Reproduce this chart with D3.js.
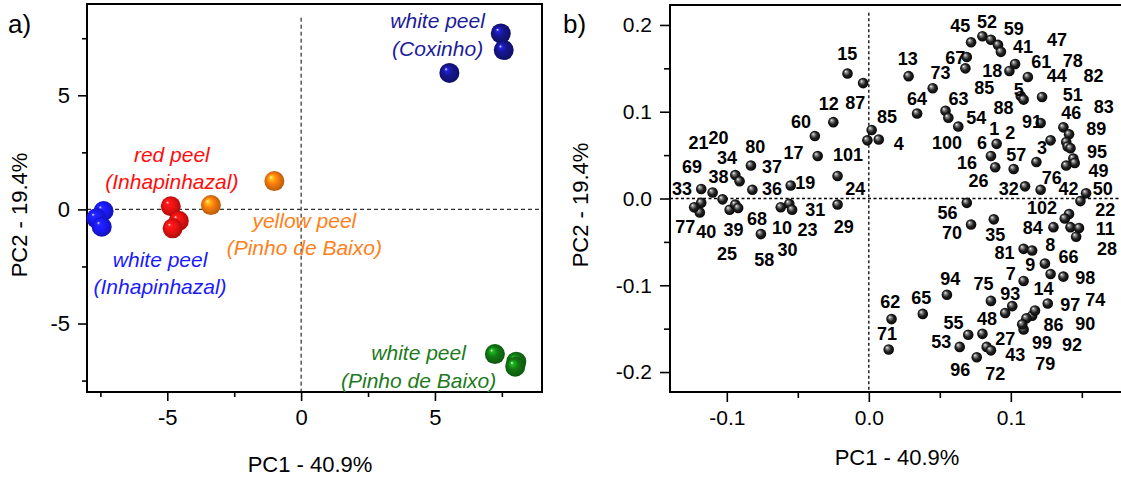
<!DOCTYPE html>
<html><head><meta charset="utf-8">
<script src="https://cdn.jsdelivr.net/npm/d3@7"></script>
<style>
body{margin:0;background:#fff}
svg{display:block}
text{font-family:"Liberation Sans",Arial,sans-serif}
</style>
</head><body>
<svg id="c" width="1121" height="481"></svg>
<script>
// ---------- Panel a) : PCA scores ----------
const scoreGroup = ["coxinho","coxinho","coxinho",
  "inhaWhite","inhaWhite","inhaWhite",
  "inhaRed","inhaRed","inhaRed",
  "pinhoYellow","pinhoYellow",
  "pinhoWhite","pinhoWhite","pinhoWhite"];
const scorePC1 = [7.46, 7.57, 5.54, -7.38, -7.65, -7.45, -4.87, -4.57, -4.80, -3.37, -1.00, 7.24, 8.04, 8.00];
const scorePC2 = [7.71, 6.98, 5.98, -0.07, -0.39, -0.76, 0.14, -0.50, -0.83, 0.19, 1.24, -6.34, -6.67, -6.89];

const groupKeys  = ["coxinho","inhaRed","pinhoYellow","inhaWhite","pinhoWhite"];
const groupLine1 = ["white peel","red peel","yellow peel","white peel","white peel"];
const groupLine2 = ["(Coxinho)","(Inhapinhazal)","(Pinho de Baixo)","(Inhapinhazal)","(Pinho de Baixo)"];
const groupLabelPC1 = [5.10, -4.83, 0.12, -5.27, 4.39];
const groupLabelPC2 = [7.70, 1.85, -1.04, -2.75, -6.84];

const scoreXTicks = [-5, 0, 5];
const scoreYTicks = [-5, 0, 5];
const scoreMinor  = [-7.5, -2.5, 2.5, 7.5];

// ---------- Panel b) : PCA loadings ----------
const loadPC1 = [-0.118,-0.110,-0.103,-0.121,-0.118,-0.119,-0.123,-0.098,-0.094,-0.092,
  -0.094,-0.091,-0.083,-0.082,-0.076,-0.055,-0.062,-0.056,-0.054,-0.038,
  -0.036,-0.025,-0.015,-0.004,-0.022,-0.022,0.002,-0.001,0.007,0.028,
  0.045,0.034,0.054,0.056,0.063,0.072,0.080,0.086,0.091,0.093,
  0.069,0.068,0.103,0.099,0.112,0.122,0.107,0.109,0.121,0.090,
  0.086,0.089,0.102,0.128,0.118,0.110,0.121,0.137,0.141,0.139,
  0.140,0.142,0.144,0.145,0.139,0.153,0.149,0.069,0.072,0.088,
  0.130,0.141,0.138,0.142,0.148,0.146,0.109,0.115,0.124,0.128,
  0.137,0.109,0.126,0.101,0.096,0.115,0.111,0.109,0.117,0.108,
  0.086,0.055,0.038,0.016,0.014,0.070,0.080,0.064,0.083,0.086,0.076];
const loadPC2 = [0.011,0.007,-0.001,-0.011,-0.005,-0.016,-0.010,-0.013,-0.007,-0.011,
  0.027,0.020,0.038,0.010,-0.041,0.015,-0.010,-0.006,-0.013,0.072,
  0.049,0.088,0.144,0.133,0.026,-0.007,0.079,0.067,0.068,0.141,
  0.127,0.098,0.101,0.093,0.083,0.180,0.187,0.183,0.177,0.169,
  0.163,0.150,0.155,0.147,0.140,0.117,0.118,0.114,0.087,0.063,
  0.049,0.036,0.034,0.067,0.042,0.014,0.010,0.082,0.074,0.065,
  0.060,0.058,0.046,0.041,0.038,0.006,-0.003,-0.005,-0.030,-0.024,
  -0.033,-0.018,-0.023,-0.033,-0.034,-0.044,-0.058,-0.060,-0.075,-0.087,
  -0.090,-0.095,-0.121,-0.124,-0.132,-0.135,-0.138,-0.151,-0.129,-0.145,
  -0.118,-0.111,-0.133,-0.139,-0.174,-0.157,-0.156,-0.171,-0.171,-0.175,-0.183];

const varName = ["1","2","3","4","5","6","7","8","9","10",
  "11","12","13","14","15","16","17","18","19","20",
  "21","22","23","24","25","26","27","28","29","30",
  "31","32","33","34","35","36","37","38","39","40",
  "41","42","43","44","45","46","47","48","49","50",
  "51","52","53","54","55","56","57","58","59","60",
  "61","62","63","64","65","66","67","68","69","70",
  "71","72","73","74","75","76","77","78","79","80",
  "81","82","83","84","85","85","86","87","88","89",
  "90","91","92","93","94","95","96","97","98","99",
  "100","101","102"];
const varLabelPC1 = [0.0884,0.0996,0.1220,0.0211,0.1056,0.0797,0.1000,0.1278,0.1137,-0.0611,
  0.1665,-0.0282,0.0275,0.1231,-0.0151,0.0692,-0.0530,0.0870,-0.0447,-0.1058,
  -0.1199,0.1665,-0.0431,-0.0095,-0.0999,0.0773,0.0961,0.1677,-0.0177,-0.0572,
  -0.0377,0.0985,-0.1315,-0.0999,0.0891,-0.0682,-0.0682,-0.1058,-0.0952,-0.1144,
  0.1086,0.1407,0.1032,0.1323,0.0644,0.1426,0.1325,0.0832,0.1618,0.1648,
  0.1437,0.0832,0.0511,0.0757,0.0597,0.0555,0.1039,-0.0736,0.1020,-0.0477,
  0.1215,0.0151,0.0632,0.0339,0.0370,0.1407,0.0609,-0.0787,-0.1245,0.0586,
  0.0128,0.0891,0.0504,0.1595,0.0808,0.1289,-0.1292,0.1437,0.1243,-0.0799,
  0.0955,0.1582,0.1654,0.1155,0.0813,0.0128,0.1301,-0.0095,0.0949,0.1602,
  0.1525,0.1149,0.1431,0.0996,0.0574,0.1607,0.0644,0.1419,0.1525,0.1220,
  0.0551,-0.0146,0.1220];
const varLabelPC2 = [0.0799,0.0750,0.0577,0.0626,0.1255,0.0634,-0.0870,-0.0539,-0.0769,-0.0339,
  -0.0354,0.1088,0.1612,-0.1038,0.1670,0.0404,0.0519,0.1474,0.0180,0.0692,
  0.0634,-0.0135,-0.0366,0.0115,-0.0634,0.0200,-0.1615,-0.0577,-0.0328,-0.0588,
  -0.0135,0.0115,0.0115,0.0461,-0.0423,0.0115,0.0364,0.0249,-0.0366,-0.0385,
  0.1749,0.0110,-0.1807,0.1407,0.1987,0.0980,0.1832,-0.1384,0.0320,0.0115,
  0.1191,0.2037,-0.1654,0.0928,-0.1435,-0.0170,0.0499,-0.0712,0.1949,0.0884,
  0.1576,-0.1193,0.1142,0.1142,-0.1142,-0.0674,0.1618,-0.0231,0.0364,-0.0394,
  -0.1557,-0.2018,0.1442,-0.1165,-0.0980,0.0240,-0.0328,0.1589,-0.1911,0.0595,
  -0.0630,0.1411,0.1057,-0.0337,0.1269,0.0934,-0.1461,0.1096,0.1038,0.0799,
  -0.1450,0.0884,-0.1692,-0.1096,-0.0931,0.0537,-0.1980,-0.1231,-0.0911,-0.1666,
  0.0634,0.0499,-0.0115];

const loadXTicks = [-0.1, 0.0, 0.1];
const loadXMinor = [-0.05, 0.05, 0.15];
const loadYTicks = [-0.2, -0.1, 0.0, 0.1, 0.2];
const loadYMinor = [-0.15, -0.05, 0.05, 0.15];

// ---------- styles ----------
const groupColor = {coxinho:"#16168f", inhaWhite:"#1a1aff", inhaRed:"#f21212", pinhoYellow:"#ff7f0e", pinhoWhite:"#137a13"};
const groupText  = {coxinho:"#1c1c99", inhaWhite:"#1a1aff", inhaRed:"#ff0d0d", pinhoYellow:"#ff8019", pinhoWhite:"#1d7a1d"};

const svg = d3.select("#c");
const defs = svg.append("defs");
function ball(id, base){
  const c = d3.color(base);
  const g = defs.append("radialGradient").attr("id", id)
    .attr("cx","50%").attr("cy","50%").attr("r","55%").attr("fx","32%").attr("fy","30%");
  g.append("stop").attr("offset","0%").attr("stop-color","#ffffff");
  g.append("stop").attr("offset","14%").attr("stop-color", c.brighter(1.2).formatHex());
  g.append("stop").attr("offset","45%").attr("stop-color", base);
  g.append("stop").attr("offset","100%").attr("stop-color", c.darker(1.1).formatHex());
}
Object.entries(groupColor).forEach(([k,v]) => ball("g_"+k, v));
(function(){
  const g = defs.append("radialGradient").attr("id","g_black")
    .attr("cx","50%").attr("cy","50%").attr("r","55%").attr("fx","32%").attr("fy","30%");
  g.append("stop").attr("offset","0%").attr("stop-color","#ffffff");
  g.append("stop").attr("offset","18%").attr("stop-color","#9a9a9a");
  g.append("stop").attr("offset","55%").attr("stop-color","#222222");
  g.append("stop").attr("offset","100%").attr("stop-color","#000000");
})();

// ===== Panel a =====
const xL = d3.scaleLinear().domain([-8, 9]).range([87, 542]);
const yL = d3.scaleLinear().domain([-8, 9]).range([392, 4]);
const pa = svg.append("g");

function styleAxis(g, fs){
  g.select(".domain").remove();
  g.selectAll("line").attr("stroke","#000").attr("stroke-width",1.6);
  g.selectAll("text").attr("font-size",fs).attr("fill","#000")
   .attr("font-family",'"Liberation Sans",Arial,sans-serif');
}
pa.append("g").attr("transform",`translate(0,392)`)
  .call(d3.axisBottom(xL).tickValues(scoreXTicks).tickSize(9).tickPadding(8).tickFormat(d=>String(d)))
  .call(g=>styleAxis(g,22));
pa.append("g").attr("transform",`translate(0,392)`)
  .call(d3.axisBottom(xL).tickValues(scoreMinor).tickSize(5).tickFormat(""))
  .call(g=>styleAxis(g,22));
pa.append("g").attr("transform",`translate(87,0)`)
  .call(d3.axisLeft(yL).tickValues(scoreYTicks).tickSize(9).tickPadding(8).tickFormat(d=>String(d)))
  .call(g=>styleAxis(g,22));
pa.append("g").attr("transform",`translate(87,0)`)
  .call(d3.axisLeft(yL).tickValues(scoreMinor).tickSize(5).tickFormat(""))
  .call(g=>styleAxis(g,22));

pa.append("line").attr("x1",xL(0)).attr("x2",xL(0)).attr("y1",yL(8.4)).attr("y2",yL(-8))
  .attr("stroke","#000").attr("stroke-width",1).attr("stroke-dasharray","4,3");
pa.append("line").attr("x1",xL(-8)).attr("x2",xL(9)).attr("y1",yL(0)).attr("y2",yL(0))
  .attr("stroke","#333").attr("stroke-width",1.2).attr("stroke-dasharray","4,3");

pa.append("rect").attr("x",87).attr("y",4).attr("width",455).attr("height",388)
  .attr("fill","none").attr("stroke","#000").attr("stroke-width",2);

const scoreIdx = d3.range(scorePC1.length);
pa.selectAll("circle.s").data(scoreIdx).join("circle").attr("class","s")
  .attr("cx", i=>xL(scorePC1[i])).attr("cy", i=>yL(scorePC2[i])).attr("r",10)
  .attr("fill", i=>`url(#g_${scoreGroup[i]})`);

groupKeys.forEach((k,i)=>{
  const t = pa.append("text").attr("x", xL(groupLabelPC1[i])).attr("y", yL(groupLabelPC2[i]))
    .attr("text-anchor","middle").attr("font-size",21).attr("font-style","italic")
    .attr("fill", groupText[k]);
  t.append("tspan").attr("x", xL(groupLabelPC1[i])).attr("dy","-0.25em").text(groupLine1[i]);
  t.append("tspan").attr("x", xL(groupLabelPC1[i])).attr("dy","1.3em").text(groupLine2[i]);
});

svg.append("text").attr("x",8).attr("y",33).attr("font-size",26).text("a)");
svg.append("text").attr("x",310).attr("y",472).attr("text-anchor","middle").attr("font-size",22).text("PC1 - 40.9%");
svg.append("text").attr("transform","translate(27,215) rotate(-90)").attr("text-anchor","middle").attr("font-size",22).text("PC2 - 19.4%");

// ===== Panel b =====
const xR = d3.scaleLinear().domain([-0.14, 0.178]).range([670, 1121.6]);
const yR = d3.scaleLinear().domain([-0.223, 0.223]).range([392, 5]);
const pb = svg.append("g");
const f1 = d => d.toFixed(1);

pb.append("g").attr("transform",`translate(0,392)`)
  .call(d3.axisBottom(xR).tickValues(loadXTicks).tickSize(10).tickPadding(8).tickFormat(f1))
  .call(g=>styleAxis(g,21));
pb.append("g").attr("transform",`translate(0,392)`)
  .call(d3.axisBottom(xR).tickValues(loadXMinor).tickSize(6).tickFormat(""))
  .call(g=>styleAxis(g,21));
pb.append("g").attr("transform",`translate(670,0)`)
  .call(d3.axisLeft(yR).tickValues(loadYTicks).tickSize(10).tickPadding(8).tickFormat(f1))
  .call(g=>styleAxis(g,21));
pb.append("g").attr("transform",`translate(670,0)`)
  .call(d3.axisLeft(yR).tickValues(loadYMinor).tickSize(6).tickFormat(""))
  .call(g=>styleAxis(g,21));

pb.append("line").attr("x1",xR(0)).attr("x2",xR(0)).attr("y1",yR(0.214)).attr("y2",yR(-0.223))
  .attr("stroke","#000").attr("stroke-width",1.3).attr("stroke-dasharray","3,2.5");
pb.append("line").attr("x1",xR(-0.14)).attr("x2",xR(0.178)).attr("y1",yR(0)).attr("y2",yR(0))
  .attr("stroke","#000").attr("stroke-width",1.3).attr("stroke-dasharray","3,2.5");

pb.append("path").attr("d",`M1125,5 H670 V392 H1125`)
  .attr("fill","none").attr("stroke","#000").attr("stroke-width",2);

const loadIdx = d3.range(loadPC1.length);
pb.selectAll("circle.l").data(loadIdx).join("circle").attr("class","l")
  .attr("cx", i=>xR(loadPC1[i])).attr("cy", i=>yR(loadPC2[i])).attr("r",5.3)
  .attr("fill","url(#g_black)");

pb.selectAll("text.v").data(d3.range(varName.length)).join("text").attr("class","v")
  .attr("x", i=>xR(varLabelPC1[i])).attr("y", i=>yR(varLabelPC2[i]))
  .attr("text-anchor","middle").attr("dominant-baseline","central")
  .attr("font-size",18).attr("font-weight","bold").attr("fill","#000")
  .text(i=>varName[i]);

svg.append("text").attr("x",563).attr("y",33).attr("font-size",26).text("b)");
svg.append("text").attr("x",897).attr("y",465).attr("text-anchor","middle").attr("font-size",22).text("PC1 - 40.9%");
svg.append("text").attr("transform","translate(588,205) rotate(-90)").attr("text-anchor","middle").attr("font-size",22).text("PC2 - 19.4%");
</script>
</body></html>
